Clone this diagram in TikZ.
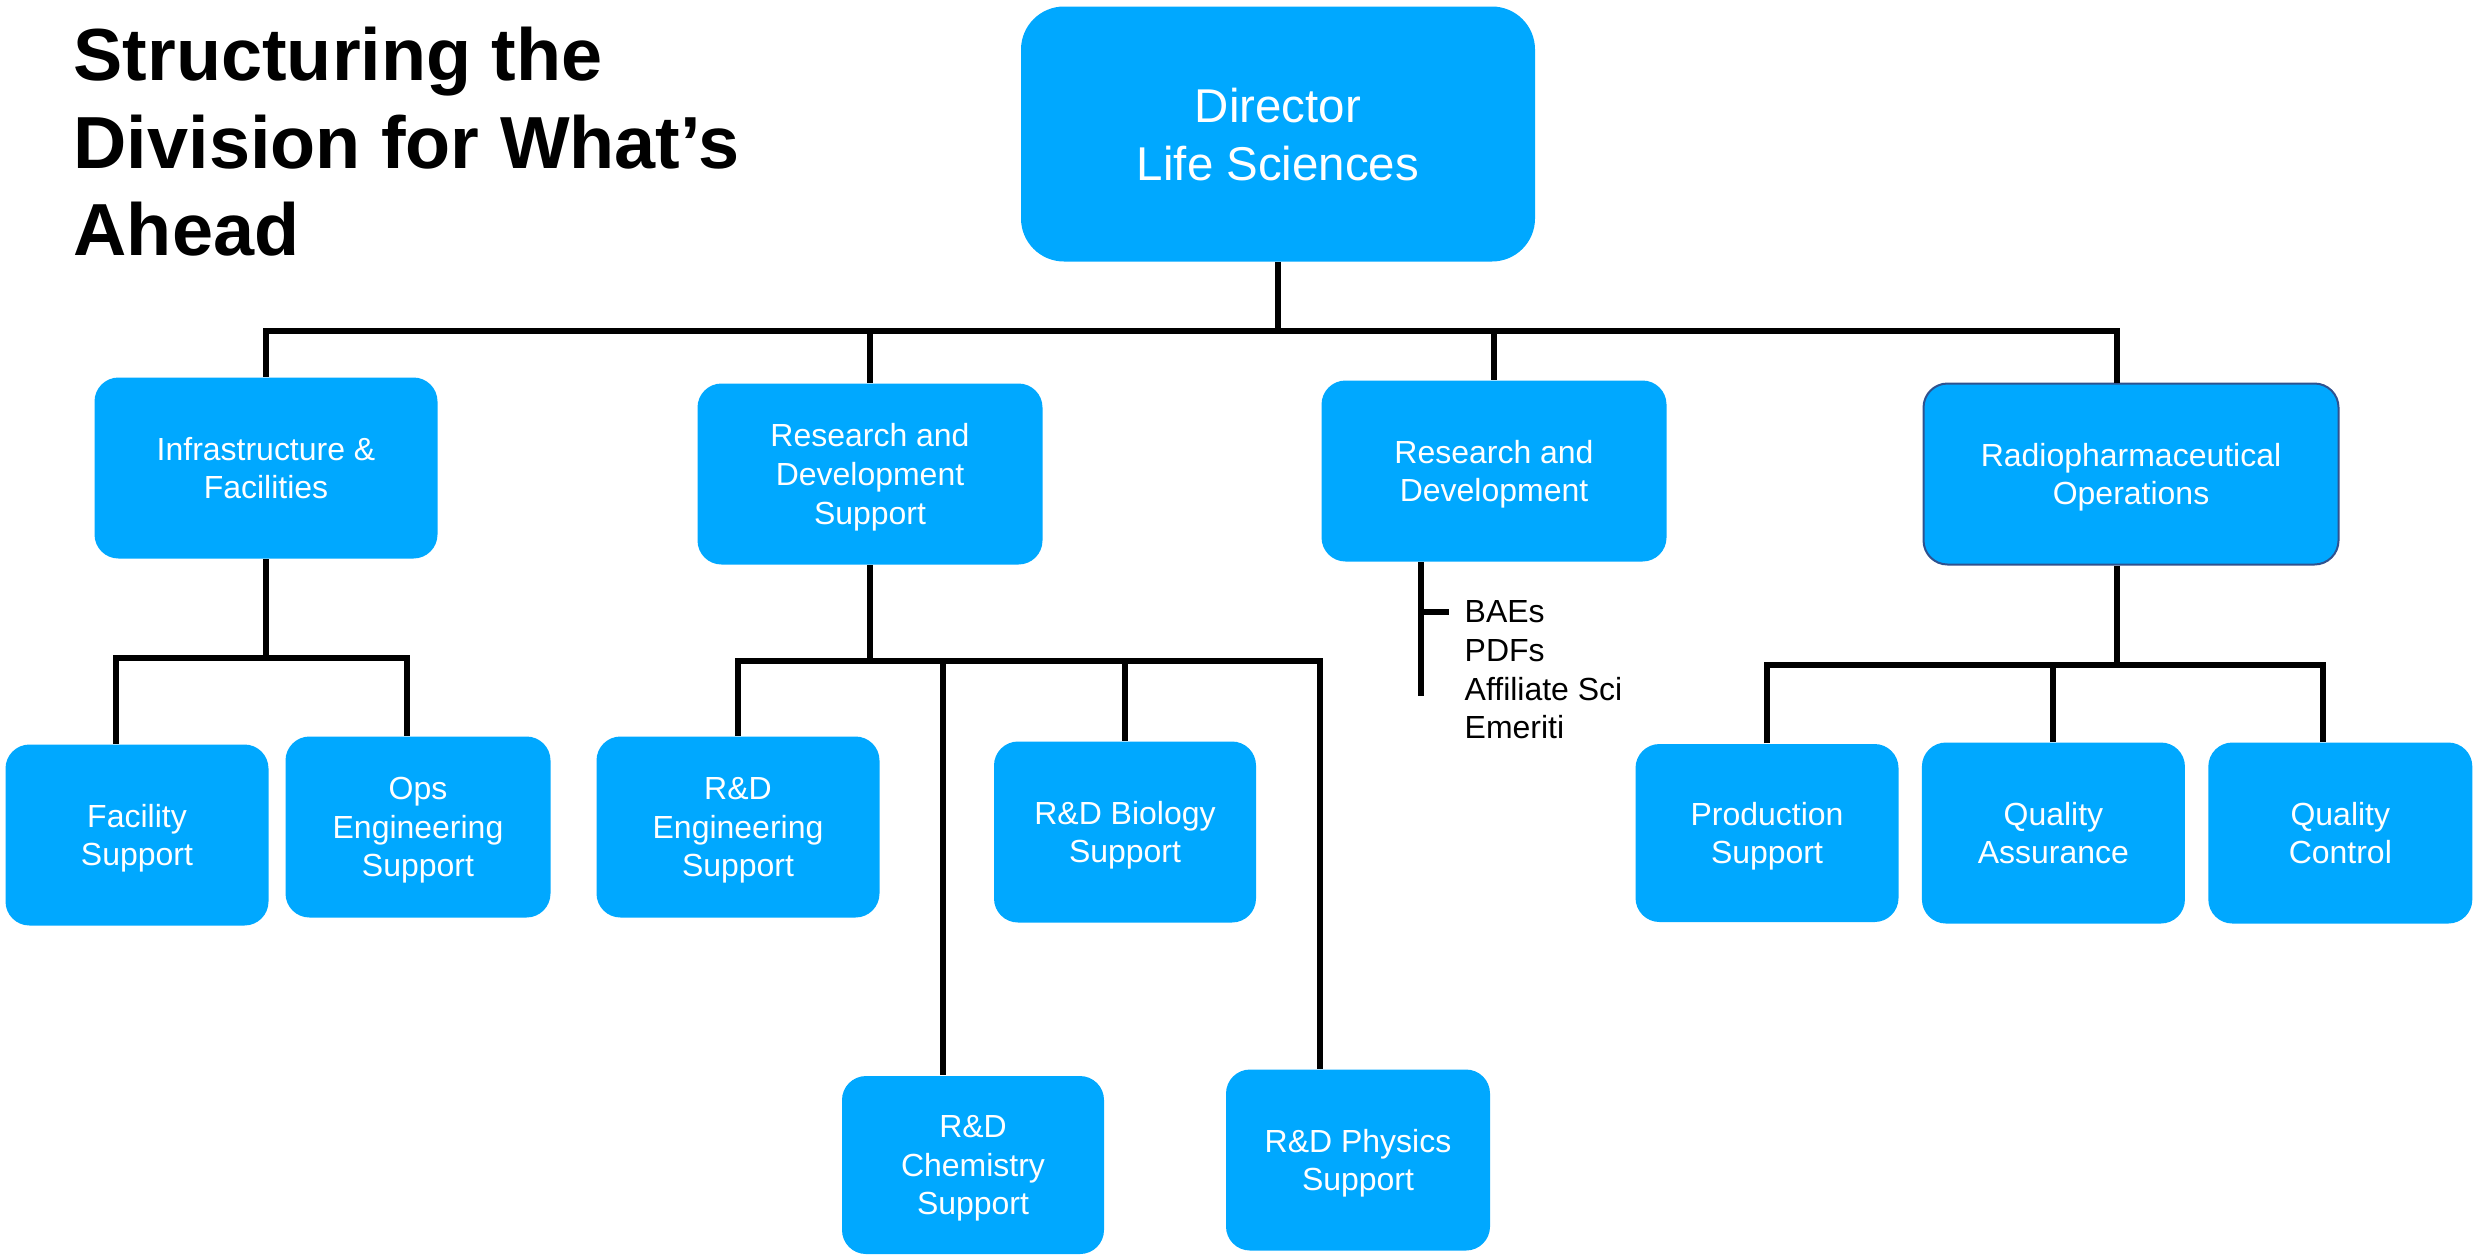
\documentclass[tikz,border=0pt]{standalone}
\usepackage{fontspec}
\setmainfont{Liberation Sans}
\usepackage{xcolor}
\usetikzlibrary{positioning}
\definecolor{boxblue}{RGB}{0,168,255}
\definecolor{rimblue}{RGB}{47,82,143}

\begin{document}
\begin{tikzpicture}[x=0.1mm, y=-0.1mm,
orgbox/.style={fill=boxblue, rounded corners=2.4mm, minimum width=26.4mm, minimum height=18.1mm, align=center, text=white, inner sep=0pt, text depth=-0.8mm, font=\fontsize{9.1}{11}\selectfont},
link/.style={line width=0.6mm, black}
]
\useasboundingbox (0,0) rectangle (2481,1254);

% Title
\node[anchor=north west, align=left, inner sep=0pt, font=\fontsize{21}{25}\selectfont\bfseries] (title) at (73,26) {Structuring the\\Division for What’s\\Ahead};

% Top
\node[orgbox, minimum width=51.4mm, minimum height=25.5mm, rounded corners=4.3mm, font=\fontsize{13.5}{16.5}\selectfont] (dir) at (1278,134) {Director\\Life Sciences};

% Second row
\node[orgbox, minimum width=34.3mm] (infra) at (266,468) {Infrastructure \&\\Facilities};
\node[orgbox, minimum width=34.5mm] (rdsup) at (870,474) {Research and\\Development\\Support};
\node[orgbox, minimum width=34.5mm] (rnd) at (1494,471) {Research and\\Development};
\node[orgbox, minimum width=41.5mm, draw=rimblue, line width=0.2mm] (radio) at (2131,474) {Radiopharmaceutical\\Operations};

% Third row
\node[orgbox, minimum width=26.3mm] (fac) at (137,835) {Facility\\Support};
\node[orgbox, minimum width=26.5mm] (ops) at (418,827) {Ops\\Engineering\\Support};
\node[orgbox, minimum width=28.3mm] (rdeng) at (738,827) {R\&D\\Engineering\\Support};
\node[orgbox, minimum width=26.2mm] (rdbio) at (1125,832) {R\&D Biology\\Support};
\node[orgbox, minimum width=26.3mm, minimum height=17.8mm] (prod) at (1767,833) {Production\\Support};
\node[orgbox, minimum width=26.3mm, right=2.2mm of prod] (qa) {Quality\\Assurance};
\node[orgbox, right=2.2mm of qa] (qc) {Quality\\Control};

% Bottom row
\node[orgbox, minimum width=26.2mm, minimum height=17.8mm] (rdchem) at (973,1165) {R\&D\\Chemistry\\Support};
\node[orgbox] (rdphys) at (1358,1160) {R\&D Physics\\Support};

% R&D staff list
\node[anchor=north west, align=left, inner sep=0pt, font=\fontsize{9.1}{11}\selectfont] (staff) at (1464,600) {BAEs\\PDFs\\Affiliate Sci\\Emeriti};

% Main bus
\coordinate (busA) at (0,331);
\coordinate (radtop) at ([xshift=-1.4mm]radio.north);
\draw[link] (dir.south) -- (dir.south |- busA);
\draw[link] (infra.north) -- (infra.north |- busA) -- (radtop |- busA) -- (radtop);
\draw[link] (rdsup.north |- busA) -- (rdsup.north);
\draw[link] (rnd.north |- busA) -- (rnd.north);

% Infrastructure branch
\coordinate (busB) at (0,658);
\coordinate (facin) at ([xshift=-2.1mm]fac.north);
\coordinate (opsin) at ([xshift=-1.1mm]ops.north);
\draw[link] (infra.south) -- (infra.south |- busB);
\draw[link] (facin) |- (opsin |- busB) -- (opsin);

% R&D support branch
\coordinate (busC) at (0,661);
\coordinate (chemin) at ([xshift=-3mm]rdchem.north);
\coordinate (physin) at ([xshift=-3.8mm]rdphys.north);
\draw[link] (rdsup.south) -- (rdsup.south |- busC);
\draw[link] (rdeng.north) |- (physin |- busC) -- (physin);
\draw[link] (chemin |- busC) -- (chemin);
\draw[link] (rdbio.north |- busC) -- (rdbio.north);

% Radiopharmaceutical branch
\coordinate (busD) at (0,665);
\coordinate (radbot) at ([xshift=-1.4mm]radio.south);
\coordinate (qcin) at ([xshift=-1.7mm]qc.north);
\draw[link] (radbot) -- (radbot |- busD);
\draw[link] (prod.north) |- (qcin |- busD) -- (qcin);
\draw[link] (qa.north |- busD) -- (qa.north);

% Staff bracket
\coordinate (rndend) at (1421,696);
\coordinate (tick) at (1449,612);
\draw[link] (rnd.south -| rndend) -- (rndend);
\draw[link] (tick -| rndend) -- (tick);
\end{tikzpicture}
\end{document}
